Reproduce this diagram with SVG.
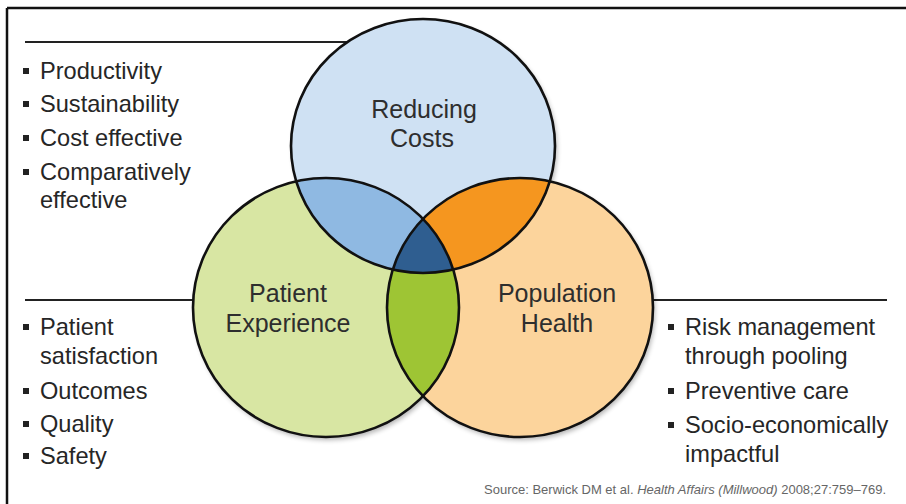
<svg xmlns="http://www.w3.org/2000/svg" width="906" height="504" viewBox="0 0 906 504">
<style>
.lbl{font-family:"Liberation Sans",Arial,sans-serif;font-size:25px;fill:#2e2e2e;text-anchor:middle}
.bul{font-family:"Liberation Sans",Arial,sans-serif;font-size:23.6px;fill:#262626}
.sq{fill:#222}
.rule{stroke:#222;stroke-width:2.2;fill:none}
.ring{fill:none;stroke:#111;stroke-width:2.6}
.src{font-family:"Liberation Sans",Arial,sans-serif;font-size:13px;fill:#666;text-anchor:end}
</style>
<defs>
<clipPath id="cB"><ellipse cx="423" cy="146" rx="132" ry="127"/></clipPath>
<clipPath id="cG"><ellipse cx="326" cy="307.5" rx="133" ry="129.5"/></clipPath>
<clipPath id="cO"><ellipse cx="520" cy="307.5" rx="133" ry="129.5"/></clipPath>
<filter id="sh" x="-10%" y="-10%" width="120%" height="120%"><feGaussianBlur stdDeviation="2.5"/></filter>
</defs>
<rect width="906" height="504" fill="#fff"/>
<g id="frame">
<line x1="7" y1="8" x2="906" y2="8" stroke="#111" stroke-width="2.5"/>
<line x1="7" y1="8" x2="7" y2="504" stroke="#111" stroke-width="2.5"/>
</g>
<g id="connectors">
<line class="rule" x1="25" y1="42" x2="347" y2="42"/>
<line class="rule" x1="25" y1="300" x2="193" y2="300"/>
<line class="rule" x1="653" y1="300" x2="887" y2="300"/>
</g>
<g id="shadow" fill="#000" opacity="0.3" filter="url(#sh)">
<ellipse cx="425" cy="149" rx="132" ry="127"/>
<ellipse cx="328" cy="310.5" rx="133" ry="129.5"/>
<ellipse cx="522" cy="310.5" rx="133" ry="129.5"/>
</g>
<g id="fills">
<ellipse cx="423" cy="146" rx="132" ry="127" fill="#cfe1f3"/>
<ellipse cx="326" cy="307.5" rx="133" ry="129.5" fill="#d8e6a3"/>
<ellipse cx="520" cy="307.5" rx="133" ry="129.5" fill="#fcd49c"/>
<ellipse cx="326" cy="307.5" rx="133" ry="129.5" fill="#8fb9e2" clip-path="url(#cB)"/>
<ellipse cx="520" cy="307.5" rx="133" ry="129.5" fill="#f5961f" clip-path="url(#cB)"/>
<ellipse cx="520" cy="307.5" rx="133" ry="129.5" fill="#9ec534" clip-path="url(#cG)"/>
<g clip-path="url(#cG)"><ellipse cx="520" cy="307.5" rx="133" ry="129.5" fill="#2f5e90" clip-path="url(#cB)"/></g>
</g>
<g id="reducing-costs">
<ellipse class="ring" cx="423" cy="146" rx="132" ry="127"/>
<text class="lbl" x="424" y="118">Reducing</text>
<text class="lbl" x="422" y="147">Costs</text>
</g>
<g id="patient-experience">
<ellipse class="ring" cx="326" cy="307.5" rx="133" ry="129.5"/>
<text class="lbl" x="288" y="302">Patient</text>
<text class="lbl" x="288" y="332">Experience</text>
</g>
<g id="population-health">
<ellipse class="ring" cx="520" cy="307.5" rx="133" ry="129.5"/>
<text class="lbl" x="557" y="302">Population</text>
<text class="lbl" x="557" y="332">Health</text>
</g>
<g id="costs-list">
<rect class="sq" x="23" y="68" width="6" height="6"/><text class="bul" x="40" y="79">Productivity</text>
<rect class="sq" x="23" y="101" width="6" height="6"/><text class="bul" x="40" y="112">Sustainability</text>
<rect class="sq" x="23" y="135" width="6" height="6"/><text class="bul" x="40" y="146">Cost effective</text>
<rect class="sq" x="23" y="169" width="6" height="6"/><text class="bul" x="40" y="180">Comparatively</text>
<text class="bul" x="40" y="208">effective</text>
</g>
<g id="patient-list">
<rect class="sq" x="23" y="324" width="6" height="6"/><text class="bul" x="40" y="335">Patient</text>
<text class="bul" x="40" y="364">satisfaction</text>
<rect class="sq" x="23" y="388" width="6" height="6"/><text class="bul" x="40" y="399">Outcomes</text>
<rect class="sq" x="23" y="421" width="6" height="6"/><text class="bul" x="40" y="432">Quality</text>
<rect class="sq" x="23" y="453" width="6" height="6"/><text class="bul" x="40" y="464">Safety</text>
</g>
<g id="population-list">
<rect class="sq" x="668" y="324" width="6" height="6"/><text class="bul" x="685" y="335">Risk management</text>
<text class="bul" x="685" y="364">through pooling</text>
<rect class="sq" x="668" y="388" width="6" height="6"/><text class="bul" x="685" y="399">Preventive care</text>
<rect class="sq" x="668" y="422" width="6" height="6"/><text class="bul" x="685" y="433">Socio-economically</text>
<text class="bul" x="685" y="462">impactful</text>
</g>
<g id="source">
<text class="src" x="886" y="494">Source: Berwick DM et al. <tspan font-style="italic">Health Affairs (Millwood)</tspan> 2008;27:759–769.</text>
</g>
</svg>
